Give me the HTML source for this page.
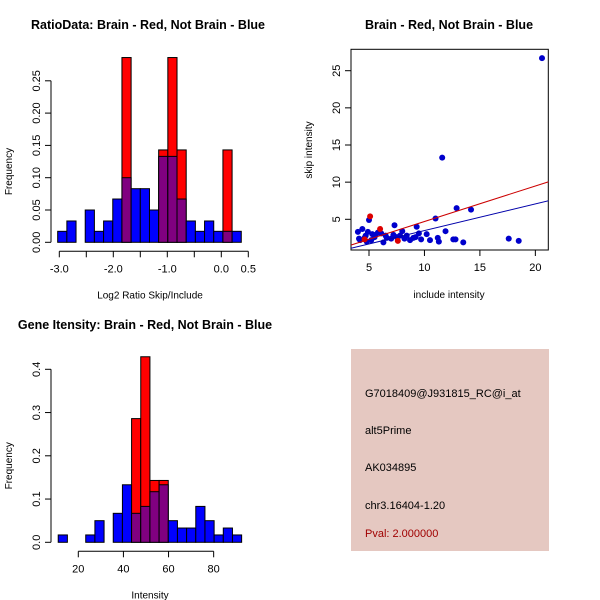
<!DOCTYPE html>
<html><head><meta charset="utf-8"><style>
body{margin:0;background:#fff;}
svg{display:block;font-family:"Liberation Sans",sans-serif;}
</style></head><body>
<svg id="s" width="600" height="600" xmlns="http://www.w3.org/2000/svg">
<rect width="600" height="600" fill="#fff"/>
<text x="148" y="29" font-size="12.5" font-weight="bold" text-anchor="middle">RatioData: Brain - Red, Not Brain - Blue</text>
<text x="449" y="29" font-size="12.5" font-weight="bold" text-anchor="middle">Brain - Red, Not Brain - Blue</text>
<text x="145" y="329" font-size="12.5" font-weight="bold" text-anchor="middle">Gene Itensity: Brain - Red, Not Brain - Blue</text>
<rect x="351" y="349" width="198" height="202" fill="#e5c8c1"/>
<g font-size="11">
<text x="365" y="397">G7018409@J931815_RC@i_at</text>
<text x="365" y="434">alt5Prime</text>
<text x="365" y="471">AK034895</text>
<text x="365" y="509">chr3.16404-1.20</text>
<text x="365" y="537" fill="#a00000">Pval: 2.000000</text>
</g>
</svg>
<script>
// ---- Ratio histogram data
const ratioBinStart = -3.03, ratioBinWidth = 0.17;
const ratioBlue = [0.017,0.033,0,0.05,0.017,0.033,0.067,0.1,0.083,0.083,0.05,0.133,0.133,0.067,0.033,0.017,0.033,0.017,0.017,0.017];
const ratioRed  = [0,0,0,0,0,0,0,0.286,0,0,0,0.143,0.286,0.143,0,0,0,0,0.143,0];
const ratioYTicks = [0,0.05,0.10,0.15,0.20,0.25];
const ratioYLabels = ["0.00","0.05","0.10","0.15","0.20","0.25"];
const ratioXTicks = [-3.0,-2.5,-2.0,-1.5,-1.0,-0.5,0.0,0.5];
const ratioXLabels = ["-3.0","","-2.0","","-1.0","","0.0","0.5"];
// ---- Intensity histogram data
const intBinStart = 11.1, intBinWidth = 4.065;
const intBlue = [0.017,0,0,0.017,0.05,0,0.067,0.133,0.067,0.083,0.117,0.133,0.05,0.033,0.033,0.083,0.05,0.017,0.033,0.017];
const intRed  = [0,0,0,0,0,0,0,0,0.286,0.429,0.143,0.143,0,0,0,0,0,0,0,0];
const intYTicks = [0,0.1,0.2,0.3,0.4];
const intYLabels = ["0.0","0.1","0.2","0.3","0.4"];
const intXTicks = [20,40,60,80];
// ---- Scatter data
const blueX = [20.6,11.6,12.9,14.2,11,9.3,7.3,11.9,17.6,18.5,13.5,12.6,12.8,10.5,11.3,11.2,10.2,9.5,9.7,9,8.7,8.2,8,7.8,7.5,7,6.6,6.3,6.1,5.8,5.5,5.2,5.0,4.9,4.7,4.4,4.2,4,4.1,4.6,5.3,6.5,7.2,8.4,9.2,4.8,5.6];
const blueY = [26.7,13.3,6.5,6.3,5.1,4,4.2,3.4,2.4,2.1,1.9,2.3,2.3,2.2,2,2.5,3,3.1,2.3,2.5,2.2,2.4,3.4,2.8,2.6,2.4,2.5,1.9,3.1,3.2,2.6,2.2,4.9,3.3,2.8,3.7,2.2,3.3,2.4,2.5,3.0,2.8,2.9,2.8,2.6,2.0,2.9];
const redX = [5.1,6,7.6,4.6];
const redY = [5.4,3.7,2.1,2.3];
const redFit = [-0.08,0.478];
const blueFit = [-0.11,0.359];
const scXTicks = [5,10,15,20];
const scYTicks = [5,10,15,20,25];

const svg = document.getElementById('s');
const NS = 'http://www.w3.org/2000/svg';
function mk(tag, attrs, parent){const e=document.createElementNS(NS,tag);for(const k in attrs)e.setAttribute(k,attrs[k]);(parent||svg).appendChild(e);return e;}

function histogram(name, binStart, binW, blue, red, xs, ys, yTicks, yLabels, xTicks, xLabels, xTitle){
  const g = mk('g',{});
  
  
  for(let i=0;i<blue.length;i++){
    const x0=xs(binStart+i*binW), x1=xs(binStart+(i+1)*binW);
    const b=blue[i], r=red[i];
    if(Math.max(b,r)<=0) continue;
    if(r>0){
      const e=mk('rect',{x:x0,y:ys(r),width:x1-x0,height:ys(0)-ys(r),fill:'#ff0000',stroke:'#000','stroke-width':1},g);
      
      
    }
    if(b>0){
      const col = r>0 ? '#800080' : '#0000ff';
      const e=mk('rect',{x:x0,y:ys(b),width:x1-x0,height:ys(0)-ys(b),fill:col,stroke:'#000','stroke-width':1},g);
      
      
    }
  }
  const ax=51;
  mk('line',{x1:ax,x2:ax,y1:ys(yTicks[0]),y2:ys(yTicks[yTicks.length-1]),stroke:'#000'},g);
  yTicks.forEach((t,i)=>{
    mk('line',{x1:ax-6,x2:ax,y1:ys(t),y2:ys(t),stroke:'#000'},g);
    const tx=mk('text',{x:0,y:0,'font-size':11,'text-anchor':'middle',transform:`translate(${ax-11},${ys(t)}) rotate(-90)`},g);
    tx.textContent=yLabels[i];
  });
  const ay=ys(0)+9;
  mk('line',{x1:xs(xTicks[0]),x2:xs(xTicks[xTicks.length-1]),y1:ay,y2:ay,stroke:'#000'},g);
  xTicks.forEach((t,i)=>{
    mk('line',{x1:xs(t),x2:xs(t),y1:ay,y2:ay+6,stroke:'#000'},g);
    const tx=mk('text',{x:xs(t),y:ay+21,'font-size':11,'text-anchor':'middle'},g);
    tx.textContent=xLabels[i];
  });
  const xt=mk('text',{x:150,y:ay+47,'font-size':10,'text-anchor':'middle'},g);
  xt.textContent=xTitle;
  const yt=mk('text',{x:0,y:0,'font-size':10,'text-anchor':'middle',transform:`translate(12,${(ys(0)+ys(yTicks[yTicks.length-1]))/2+10}) rotate(-90)`},g);
  yt.textContent='Frequency';
}

const rxs=v=>59.3+(v+3)*54.0, rys=v=>242.3-v*646;
histogram('ratio-histogram',ratioBinStart,ratioBinWidth,ratioBlue,ratioRed,rxs,rys,ratioYTicks,ratioYLabels,ratioXTicks,ratioXLabels,'Log2 Ratio Skip/Include');
const ixs=v=>78.3+(v-20)*2.256, iys=v=>542.3-v*432.5;
histogram('intensity-histogram',intBinStart,intBinWidth,intBlue,intRed,ixs,iys,intYTicks,intYLabels,intXTicks,intXTicks.map(String),'Intensity');

// scatter
const sxs=v=>369+(v-5)*11.09, sys=v=>219.3-(v-5)*7.43;
const sg=mk('g',{});


mk('rect',{x:351,y:49.3,width:197.3,height:200.7,fill:'none',stroke:'#000'},sg);
const defs=mk('defs',{},sg);
const cp=mk('clipPath',{id:'clp'},defs);
mk('rect',{x:351,y:49.3,width:197.3,height:200.7},cp);
blueX.forEach((x,i)=>{const c=mk('circle',{cx:sxs(x),cy:sys(blueY[i]),r:3,fill:'#0000cc'},sg);
  
  });
redX.forEach((x,i)=>{const c=mk('circle',{cx:sxs(x),cy:sys(redY[i]),r:3,fill:'#dd0000'},sg);
  
  });
[[redFit,'#cc0000','red-fit-line'],[blueFit,'#0000aa','blue-fit-line']].forEach(([f,col,nm])=>{
  const xa=0,xb=25;
  const l=mk('line',{x1:sxs(xa),y1:sys(f[0]+f[1]*xa),x2:sxs(xb),y2:sys(f[0]+f[1]*xb),stroke:col,'clip-path':'url(#clp)'},sg);
  
  
});
scXTicks.forEach(t=>{mk('line',{x1:sxs(t),x2:sxs(t),y1:250,y2:256,stroke:'#000'},sg);
  const tx=mk('text',{x:sxs(t),y:271,'font-size':11,'text-anchor':'middle'},sg);tx.textContent=t;});
scYTicks.forEach(t=>{mk('line',{x1:345,x2:351,y1:sys(t),y2:sys(t),stroke:'#000'},sg);
  const tx=mk('text',{x:0,y:0,'font-size':11,'text-anchor':'middle',transform:`translate(340,${sys(t)}) rotate(-90)`},sg);tx.textContent=t;});
const sxt=mk('text',{x:449,y:298,'font-size':10,'text-anchor':'middle'},sg);sxt.textContent='include intensity';
const syt=mk('text',{x:0,y:0,'font-size':10,'text-anchor':'middle',transform:'translate(312,150) rotate(-90)'},sg);syt.textContent='skip intensity';
</script>
</body></html>
